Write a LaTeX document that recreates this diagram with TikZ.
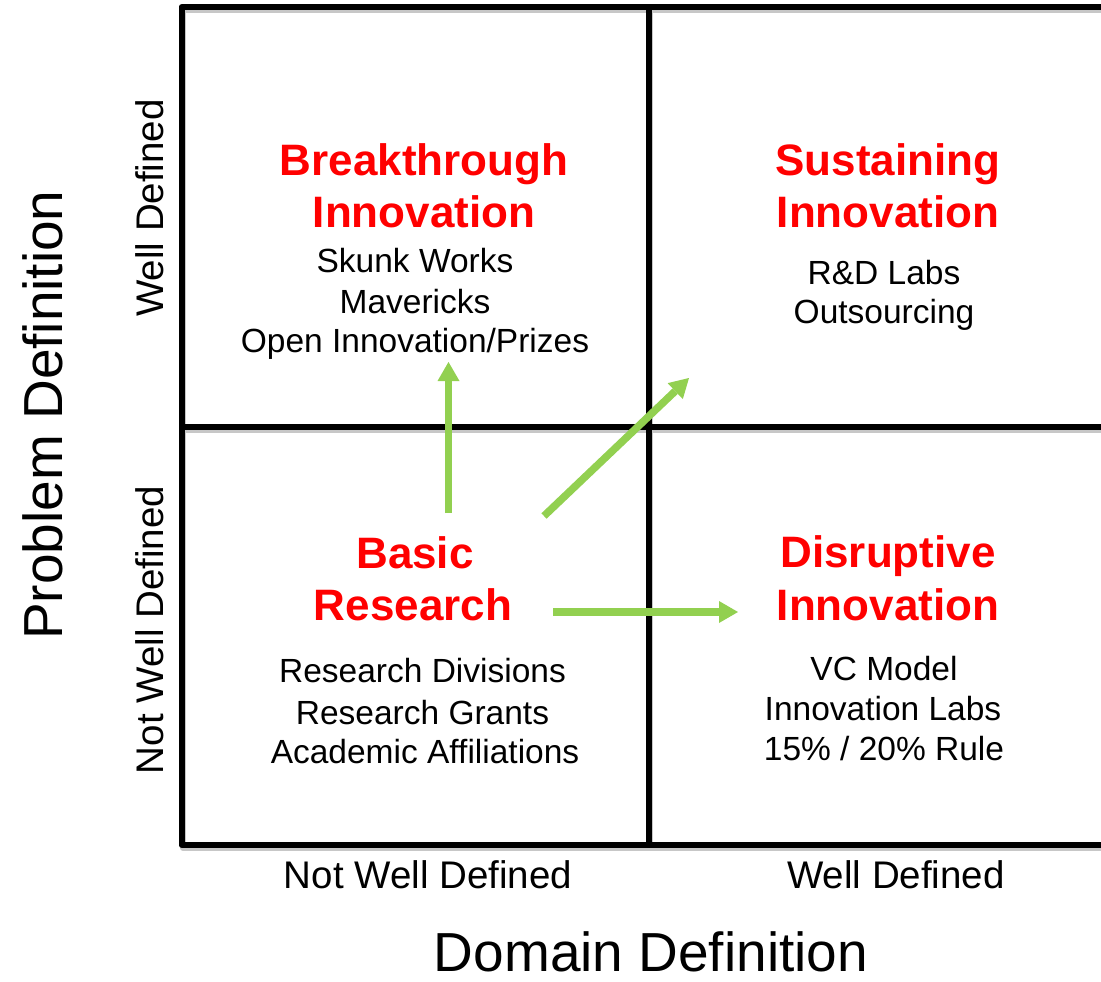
\documentclass[tikz,border=0pt]{standalone}
\usepackage{fontspec}
\setmainfont{Liberation Sans}
\usetikzlibrary{arrows.meta}
\definecolor{titlered}{RGB}{255,0,0}
\definecolor{arrowgreen}{RGB}{146,208,80}
\begin{document}
\begin{tikzpicture}[x=1pt,y=-1pt,
  gridline/.style={line width=6pt, line join=round, draw=black},
  gridshadow/.style={line width=6pt, line join=round, draw=black!22},
  titletext/.style={text=titlered, font=\fontsize{44}{52}\selectfont\bfseries, anchor=base, inner sep=0pt},
  itemtext/.style={text=black, font=\fontsize{33.5}{40}\selectfont, anchor=base, inner sep=0pt},
  axistext/.style={text=black, font=\fontsize{38.5}{46}\selectfont, anchor=base, inner sep=0pt},
  axistitle/.style={text=black, font=\fontsize{55}{66}\selectfont, anchor=base, inner sep=0pt, text depth=0pt},
  greenarrow/.style={draw=arrowgreen, line width=7.5pt, -{Triangle[width=22pt,length=19pt,line width=0pt]}}
]
\useasboundingbox (0,0) rectangle (1101,982);
\fill[white] (0,0) rectangle (1101,982);

% grid shadow
\begin{scope}[shift={(1.5,3)}]
  \draw[gridshadow] (1101,7) -- (181.5,7) -- (181.5,845) -- (1101,845);
  \draw[gridshadow] (648.5,7) -- (648.5,845);
  \draw[gridshadow] (181.5,426.5) -- (1101,426.5);
\end{scope}
% grid
\draw[gridline] (1101,7) -- (181.5,7) -- (181.5,845) -- (1101,845);
\draw[gridline] (648.5,7) -- (648.5,845);
\draw[gridline] (181.5,426.5) -- (1101,426.5);

% Breakthrough Innovation
\node[titletext] (bt1) at (424,175) {Breakthrough};
\node[titletext] (bt2) at (424,227) {Innovation};
\node[itemtext] (bi1) at (415,272) {Skunk Works};
\node[itemtext] (bi2) at (415,313) {Mavericks};
\node[itemtext] (bi3) at (415,352.5) {Open Innovation/Prizes};

% Sustaining Innovation
\node[titletext] (st1) at (888,175) {Sustaining};
\node[titletext] (st2) at (888,227) {Innovation};
\node[itemtext] (si1) at (884,284) {R\&D Labs};
\node[itemtext] (si2) at (884,323) {Outsourcing};

% Basic Research
\node[titletext] (br1) at (415,568) {Basic};
\node[titletext] (br2) at (413,620) {Research};
\node[itemtext] (bri1) at (422.5,682) {Research Divisions};
\node[itemtext] (bri2) at (422.5,724) {Research Grants};
\node[itemtext] (bri3) at (425,763) {Academic Affiliations};

% Disruptive Innovation
\node[titletext] (dt1) at (888,567) {Disruptive};
\node[titletext] (dt2) at (888,620) {Innovation};
\node[itemtext] (di1) at (884,680) {VC Model};
\node[itemtext] (di2) at (883,720) {Innovation Labs};
\node[itemtext] (di3) at (884,760) {15\% / 20\% Rule};

% axes labels
\node[axistext] (xl1) at (428,888) {Not Well Defined};
\node[axistext] (xl2) at (896,888) {Well Defined};
\node[axistitle] (xt) at (651,971) {Domain Definition};
\node[axistitle, rotate=90] (yt) at (62,415) {Problem Definition};
\node[axistext, rotate=90] (yl1) at (163,208) {Well Defined};
\node[axistext, rotate=90] (yl2) at (163,630) {Not Well Defined};

% arrows
\coordinate (a1s) at (448.5,513);
\coordinate (a1e) at (448.5,362);
\coordinate (a2s) at (544,516);
\coordinate (a2e) at (689,378);
\coordinate (a3s) at (553,612);
\coordinate (a3e) at (738,612);
\draw[greenarrow] (a1s) -- (a1e);
\draw[greenarrow] (a2s) -- (a2e);
\draw[greenarrow] (a3s) -- (a3e);
\end{tikzpicture}
\end{document}
